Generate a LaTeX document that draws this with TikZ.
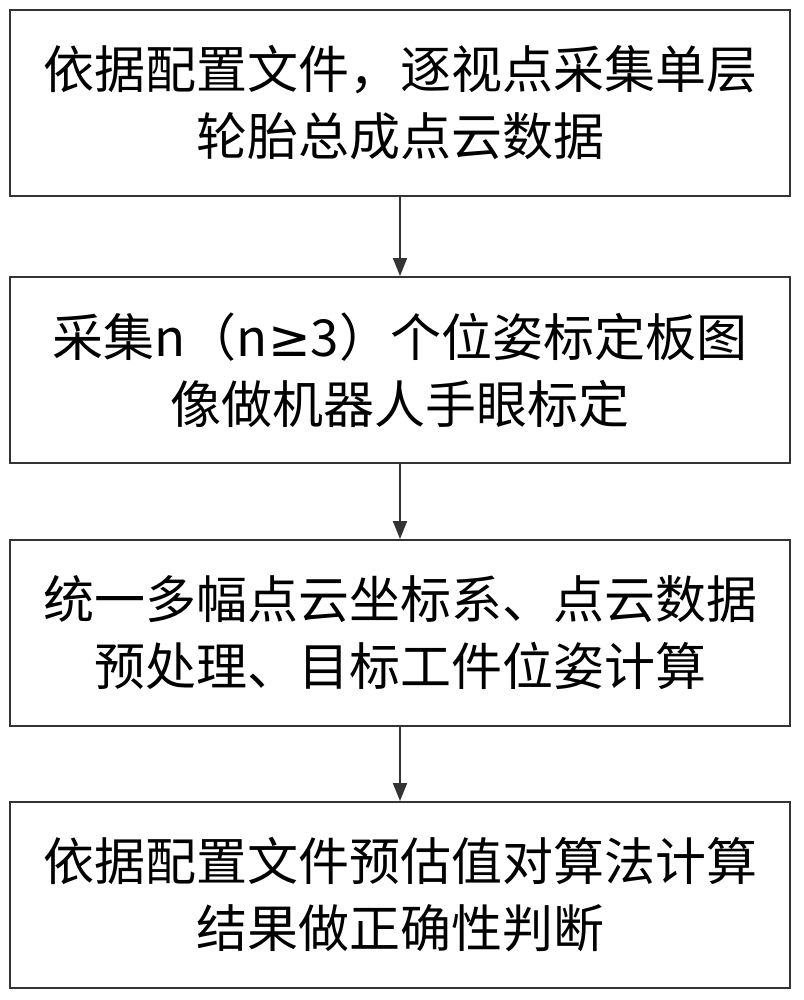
\documentclass[tikz,border=0pt]{standalone}
\usepackage{fontspec}
\setmainfont{Noto Sans CJK SC}
\newfontfamily\symfont{DejaVu Sans}
\usetikzlibrary{arrows.meta}
\begin{document}
\begin{tikzpicture}[x=1pt,y=-1pt,
 box/.style={draw=black!80,line width=2pt,minimum width=780pt,minimum height=186pt,align=center,font=\fontsize{51}{67}\selectfont,inner sep=0pt},
 arr/.style={-{Triangle[length=18pt,width=14pt]},line width=2pt,draw=black!80}]
\useasboundingbox (0,0) rectangle (803,1000);
\node[box] (a) at (400,103) {依据配置文件，逐视点采集单层\\轮胎总成点云数据};
\node[box] (b) at (400,370) {采集n（n{\symfont ≥}3）个位姿标定板图\\像做机器人手眼标定};
\node[box] (c) at (400,633) {统一多幅点云坐标系、点云数据\\预处理、目标工件位姿计算};
\node[box] (d) at (400,895) {依据配置文件预估值对算法计算\\结果做正确性判断};
\draw[arr] (a) -- (b);
\draw[arr] (b) -- (c);
\draw[arr] (c) -- (d);
\end{tikzpicture}
\end{document}
